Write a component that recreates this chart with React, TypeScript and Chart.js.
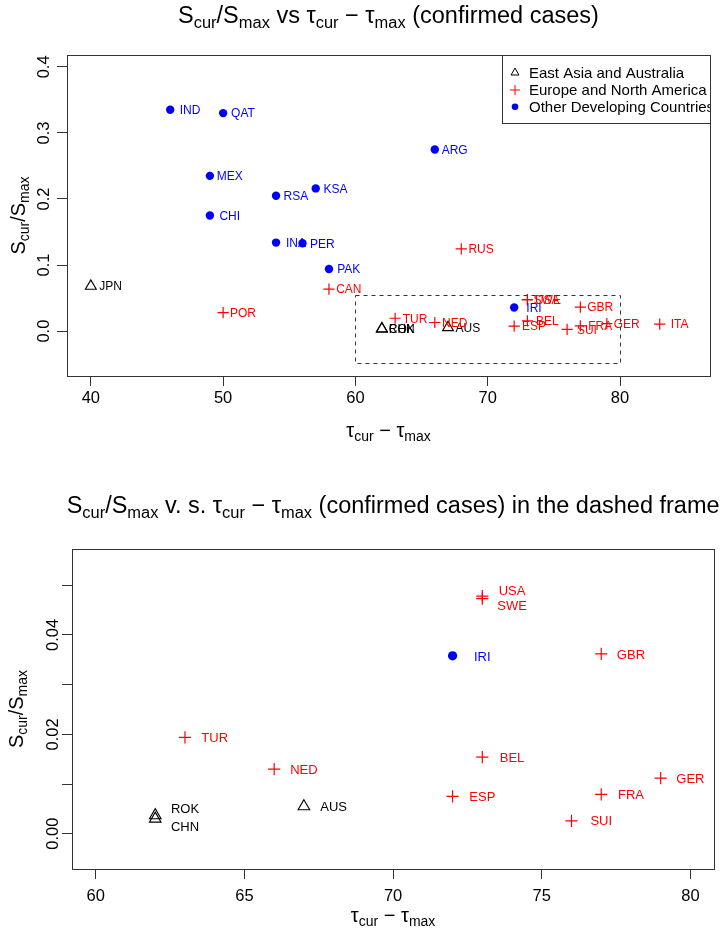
import React, { useEffect, useRef } from 'react';
import { Chart, registerables } from 'chart.js';

Chart.register(...registerables);

// ---------------- data ----------------
const seriesNames = ['East Asia and Australia', 'Europe and North America', 'Other Developing Countries'];

const eastAsiaNames = ['JPN', 'ROK', 'CHN', 'AUS'];
const eastAsiaX = [40, 62, 62, 67];
const eastAsiaY = [0.068, 0.0037, 0.003, 0.0055];

const europeNames = ['POR', 'CAN', 'RUS', 'TUR', 'NED', 'USA', 'SWE', 'BEL', 'ESP', 'GBR', 'FRA', 'SUI', 'GER', 'ITA'];
const europeX = [50, 58, 68, 63, 66, 73, 73, 73, 72, 77, 77, 76, 79, 83];
const europeY = [0.028, 0.0635, 0.1245, 0.0194, 0.013, 0.0478, 0.0473, 0.0154, 0.0075, 0.0362, 0.0079, 0.0026, 0.0112, 0.0106];

const otherNames = ['IND', 'QAT', 'MEX', 'RSA', 'KSA', 'CHI', 'INA', 'PER', 'PAK', 'ARG', 'IRI'];
const otherX = [46, 50, 49, 54, 57, 49, 54, 56, 58, 66, 72];
const otherY = [0.335, 0.33, 0.235, 0.205, 0.216, 0.175, 0.134, 0.133, 0.094, 0.275, 0.0358];

const topXTicks = [40, 50, 60, 70, 80];
const topYTicks = [0, 0.1, 0.2, 0.3, 0.4];
const topYTickLabels = ['0.0', '0.1', '0.2', '0.3', '0.4'];
const bottomXTicks = [60, 65, 70, 75, 80];
const bottomYTicks = [0, 0.01, 0.02, 0.03, 0.04, 0.05];
const bottomYTickLabels = ['0.00', '', '0.02', '', '0.04', ''];

const frameX = [60, 80];
const frameY = [-0.048, 0.055];

// ---------------- styling ----------------
const FONT = "'Liberation Sans', Arial, Helvetica, sans-serif";
const LINE = '#333333';
const groupColors = ['#000000', '#ff0000', '#0000ff'];

type Seg = { t: string; sub?: boolean };
const S = (t: string): Seg => ({ t });
const B = (t: string): Seg => ({ t, sub: true });

const topTitle: Seg[] = [S('S'), B('cur'), S('/S'), B('max'), S(' vs \u03C4'), B('cur'), S(' \u2212 \u03C4'), B('max'), S(' (confirmed cases)')];
const bottomTitle: Seg[] = [S('S'), B('cur'), S('/S'), B('max'), S(' v. s. \u03C4'), B('cur'), S(' \u2212 \u03C4'), B('max'), S(' (confirmed cases) in the dashed frame')];
const yTitle: Seg[] = [S('S'), B('cur'), S('/S'), B('max')];
const xTitle: Seg[] = [S('\u03C4'), B('cur'), S(' \u2212 \u03C4'), B('max')];

function richWidth(ctx: CanvasRenderingContext2D, segs: Seg[], size: number) {
  let w = 0;
  for (const s of segs) {
    ctx.font = `${s.sub ? size * 0.7 : size}px ${FONT}`;
    w += ctx.measureText(s.t).width;
  }
  return w;
}

function drawRich(ctx: CanvasRenderingContext2D, segs: Seg[], x: number, y: number, size: number) {
  const w = richWidth(ctx, segs, size);
  let cx = x - w / 2;
  ctx.textAlign = 'left';
  ctx.textBaseline = 'alphabetic';
  for (const s of segs) {
    const fs = s.sub ? size * 0.7 : size;
    ctx.font = `${fs}px ${FONT}`;
    ctx.fillText(s.t, cx, s.sub ? y + size * 0.22 : y);
    cx += ctx.measureText(s.t).width;
  }
}

interface PanelCfg {
  title: Seg[];
  titleBaseline: number;
  yTicks: number[];
  yTickLabels: string[];
  yTickLabelX: number;
  yTitleX: number;
  xTitleBaseline: number;
  labelDx: number;
  labelSize: number;
  nudges: Record<string, number>;
  legend: boolean;
  frame: boolean;
}

const groups = [
  { names: eastAsiaNames, xs: eastAsiaX, ys: eastAsiaY },
  { names: europeNames, xs: europeX, ys: europeY },
  { names: otherNames, xs: otherX, ys: otherY },
];

function makePlugin(cfg: PanelCfg) {
  return {
    id: 'rdecor',
    afterDraw(chart: any) {
      const ctx: CanvasRenderingContext2D = chart.ctx;
      const a = chart.chartArea;
      const xs = chart.scales.x;
      const ys = chart.scales.y;
      ctx.save();
      ctx.fillStyle = '#000';

      // title
      drawRich(ctx, cfg.title, (a.left + a.right) / 2, cfg.titleBaseline, 23.5);
      // x axis title
      drawRich(ctx, xTitle, (a.left + a.right) / 2, cfg.xTitleBaseline, 20);
      // y axis title (rotated)
      ctx.save();
      ctx.translate(cfg.yTitleX, (a.top + a.bottom) / 2);
      ctx.rotate(-Math.PI / 2);
      drawRich(ctx, yTitle, 0, 0, 20);
      ctx.restore();
      // y tick labels (rotated)
      ctx.font = `16.5px ${FONT}`;
      cfg.yTicks.forEach((v, i) => {
        const lab = cfg.yTickLabels[i];
        if (!lab) return;
        const py = ys.getPixelForValue(v);
        ctx.save();
        ctx.translate(cfg.yTickLabelX, py);
        ctx.rotate(-Math.PI / 2);
        ctx.textAlign = 'center';
        ctx.textBaseline = 'alphabetic';
        ctx.fillText(lab, 0, 16.5 * 0.36);
        ctx.restore();
      });

      // point labels
      ctx.font = `${cfg.labelSize}px ${FONT}`;
      ctx.textAlign = 'center';
      ctx.textBaseline = 'alphabetic';
      groups.forEach((g, gi) => {
        ctx.fillStyle = groupColors[gi];
        g.names.forEach((n, i) => {
          const xv = g.xs[i];
          const yv = g.ys[i];
          if (xv < xs.min || xv > xs.max || yv < ys.min || yv > ys.max) return;
          const px = xs.getPixelForValue(xv + cfg.labelDx);
          const py = ys.getPixelForValue(yv) + (cfg.nudges[n] || 0);
          ctx.fillText(n, px, py + cfg.labelSize * 0.36);
        });
      });

      // dashed frame
      if (cfg.frame) {
        const x0 = Math.round(xs.getPixelForValue(frameX[0])) + 0.5;
        const x1 = Math.round(xs.getPixelForValue(frameX[1])) + 0.5;
        const y0 = Math.round(ys.getPixelForValue(frameY[1])) + 0.5;
        const y1 = Math.round(ys.getPixelForValue(frameY[0])) + 0.5;
        ctx.strokeStyle = LINE;
        ctx.lineWidth = 1;
        ctx.setLineDash([4, 4]);
        ctx.strokeRect(x0, y0, x1 - x0, y1 - y0);
        ctx.setLineDash([]);
      }

      // legend
      if (cfg.legend) {
        ctx.save();
        ctx.beginPath();
        ctx.rect(a.left, a.top, a.right - a.left + 1, a.bottom - a.top);
        ctx.clip();
        const lx = 502.5;
        const ly = Math.round(a.top) + 0.5;
        ctx.fillStyle = '#fff';
        ctx.fillRect(lx, ly, a.right - lx, 68);
        ctx.strokeStyle = LINE;
        ctx.lineWidth = 1;
        ctx.strokeRect(lx, ly, a.right - lx + 2, 68);
        const rows = [72.7, 90, 106.7];
        const sx = 515;
        // triangle
        ctx.strokeStyle = '#000';
        ctx.beginPath();
        const r = 4.6;
        ctx.moveTo(sx, rows[0] - r);
        ctx.lineTo(sx + r * 0.866, rows[0] + r / 2);
        ctx.lineTo(sx - r * 0.866, rows[0] + r / 2);
        ctx.closePath();
        ctx.stroke();
        // cross
        ctx.strokeStyle = '#ff0000';
        ctx.beginPath();
        ctx.moveTo(sx - 5, rows[1]);
        ctx.lineTo(sx + 5, rows[1]);
        ctx.moveTo(sx, rows[1] - 5);
        ctx.lineTo(sx, rows[1] + 5);
        ctx.stroke();
        // dot
        ctx.fillStyle = '#0000ff';
        ctx.beginPath();
        ctx.arc(sx, rows[2], 3.3, 0, Math.PI * 2);
        ctx.fill();
        ctx.fillStyle = '#000';
        ctx.font = `15px ${FONT}`;
        ctx.textAlign = 'left';
        ctx.textBaseline = 'alphabetic';
        seriesNames.forEach((n, i) => ctx.fillText(n, 529, rows[i] + 15 * 0.36));
        ctx.restore();
      }

      // box
      ctx.strokeStyle = LINE;
      ctx.lineWidth = 1;
      ctx.strokeRect(Math.round(a.left) + 0.5, Math.round(a.top) + 0.5, Math.round(a.right - a.left), Math.round(a.bottom - a.top));
      ctx.restore();
    },
  };
}

interface ChartCfg {
  xMin: number;
  xMax: number;
  yMin: number;
  yMax: number;
  xTicks: number[];
  yTicks: number[];
  yAxisWidth: number;
  xAxisHeight: number;
  padTop: number;
  padRight: number;
  xTickPad: number;
  triR: number;
  crossR: number;
  dotR: number;
  panel: PanelCfg;
}

function buildConfig(c: ChartCfg): any {
  const gridCfg = {
    drawOnChartArea: false,
    drawTicks: true,
    tickLength: 10,
    tickColor: LINE,
    tickWidth: 1,
    color: LINE,
  };
  return {
    type: 'scatter',
    data: {
      datasets: [
        {
          label: seriesNames[0],
          data: eastAsiaX.map((x, i) => ({ x, y: eastAsiaY[i] })),
          pointStyle: 'triangle',
          pointRadius: c.triR,
          pointBorderColor: '#000',
          pointBackgroundColor: 'rgba(0,0,0,0)',
          pointBorderWidth: 1.1,
        },
        {
          label: seriesNames[1],
          data: europeX.map((x, i) => ({ x, y: europeY[i] })),
          pointStyle: 'cross',
          pointRadius: c.crossR,
          pointBorderColor: '#ff0000',
          pointBackgroundColor: '#ff0000',
          pointBorderWidth: 1.2,
        },
        {
          label: seriesNames[2],
          data: otherX.map((x, i) => ({ x, y: otherY[i] })),
          pointStyle: 'circle',
          pointRadius: c.dotR,
          pointBorderColor: '#0000ff',
          pointBackgroundColor: '#0000ff',
          pointBorderWidth: 0,
        },
      ],
    },
    options: {
      responsive: false,
      animation: false,
      devicePixelRatio: 1,
      events: [],
      layout: { padding: { left: 0, right: c.padRight, top: c.padTop, bottom: 0 } },
      plugins: { legend: { display: false }, title: { display: false }, tooltip: { enabled: false } },
      scales: {
        x: {
          type: 'linear',
          min: c.xMin,
          max: c.xMax,
          afterBuildTicks: (s: any) => {
            s.ticks = c.xTicks.map((v) => ({ value: v }));
          },
          afterFit: (s: any) => {
            s.height = c.xAxisHeight;
          },
          grid: gridCfg,
          border: { display: false },
          ticks: {
            autoSkip: false,
            maxRotation: 0,
            minRotation: 0,
            padding: c.xTickPad,
            color: '#000',
            font: { family: FONT, size: 16.5 },
            callback: (v: any) => String(v),
          },
        },
        y: {
          type: 'linear',
          min: c.yMin,
          max: c.yMax,
          afterBuildTicks: (s: any) => {
            s.ticks = c.yTicks.map((v) => ({ value: v }));
          },
          afterFit: (s: any) => {
            s.width = c.yAxisWidth;
          },
          grid: gridCfg,
          border: { display: false },
          ticks: { display: false },
        },
      },
    },
    plugins: [makePlugin(c.panel)],
  };
}

const topCfg: ChartCfg = {
  xMin: 38.2,
  xMax: 86.8,
  yMin: -0.068,
  yMax: 0.418,
  xTicks: topXTicks,
  yTicks: topYTicks,
  yAxisWidth: 67,
  xAxisHeight: 89,
  padTop: 55,
  padRight: 12,
  xTickPad: 3,
  triR: 6.3,
  crossR: 5.6,
  dotR: 4.2,
  panel: {
    title: topTitle,
    titleBaseline: 23,
    yTicks: topYTicks,
    yTickLabels: topYTickLabels,
    yTickLabelX: 43,
    yTitleX: 25,
    xTitleBaseline: 437,
    labelDx: 1.5,
    labelSize: 12,
    nudges: {},
    legend: true,
    frame: true,
  },
};

const bottomCfg: ChartCfg = {
  xMin: 59.2,
  xMax: 80.8,
  yMin: -0.0071,
  yMax: 0.0573,
  xTicks: bottomXTicks,
  yTicks: bottomYTicks,
  yAxisWidth: 72,
  xAxisHeight: 61,
  padTop: 84,
  padRight: 7,
  xTickPad: 8,
  triR: 6.7,
  crossR: 6.1,
  dotR: 4.65,
  panel: {
    title: bottomTitle,
    titleBaseline: 48,
    yTicks: bottomYTicks,
    yTickLabels: bottomYTickLabels,
    yTickLabelX: 52,
    yTitleX: 23,
    xTitleBaseline: 457,
    labelDx: 1,
    labelSize: 13,
    nudges: { USA: -6, SWE: 6.5, ROK: -7.5, CHN: 7.5 },
    legend: false,
    frame: false,
  },
};

function ChartCanvas({ cfg }: { cfg: ChartCfg }) {
  const ref = useRef<HTMLCanvasElement | null>(null);
  useEffect(() => {
    if (!ref.current) return;
    const chart = new Chart(ref.current, buildConfig(cfg));
    return () => chart.destroy();
  }, [cfg]);
  return <canvas ref={ref} width={722} height={465} style={{ display: 'block', width: 722, height: 465 }} />;
}

export default function App() {
  return (
    <div style={{ position: 'absolute', left: 0, top: 0, width: 722, height: 930, background: '#fff' }}>
      <ChartCanvas cfg={topCfg} />
      <ChartCanvas cfg={bottomCfg} />
    </div>
  );
}
